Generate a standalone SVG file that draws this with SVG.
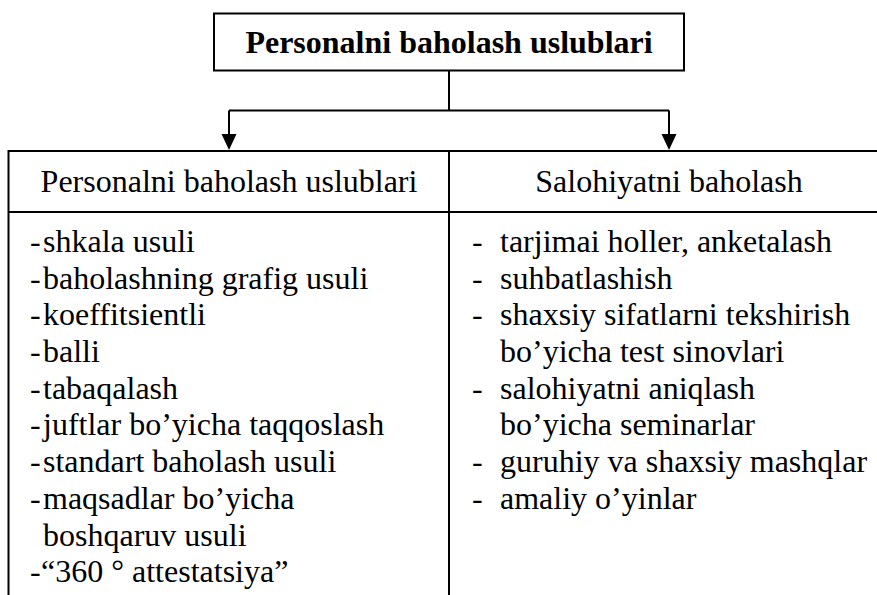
<svg xmlns="http://www.w3.org/2000/svg" width="877" height="595" viewBox="0 0 877 595">
<style>
text{font-family:"Liberation Serif","Times New Roman",serif;font-size:32px;fill:#000}
.b{font-weight:bold}
.ln{stroke:#000;stroke-width:2;fill:none}
.ah{fill:#000}
</style>
<rect width="877" height="595" fill="#fff"/>
<g id="title">
<rect class="ln" x="214" y="13.5" width="470" height="57"/>
<text class="b" x="449" y="53" text-anchor="middle">Personalni baholash uslublari</text>
</g>
<g id="connectors">
<path class="ln" d="M449,70.5 V110.5 M229,110.5 H669"/>
<path class="ln" d="M229,110.5 V134"/>
<path class="ln" d="M669,110.5 V134"/>
<path class="ah" d="M221.5,134 L236.5,134 L229,150 Z"/>
<path class="ah" d="M661.5,134 L676.5,134 L669,150 Z"/>
</g>
<g id="table">
<path class="ln" d="M8.5,151 H877 M8.5,212 H877 M8.5,150 V595 M449,150 V595"/>
</g>
<g id="left-column">
<text x="229" y="192" text-anchor="middle">Personalni baholash uslublari</text>
<text x="30" y="252">-</text><text x="43" y="252">shkala usuli</text>
<text x="30" y="288.7">-</text><text x="43" y="288.7">baholashning grafig usuli</text>
<text x="30" y="325.4">-</text><text x="43" y="325.4">koeffitsientli</text>
<text x="30" y="362">-</text><text x="43" y="362">balli</text>
<text x="30" y="398.7">-</text><text x="43" y="398.7">tabaqalash</text>
<text x="30" y="435.4">-</text><text x="43" y="435.4">juftlar bo’yicha taqqoslash</text>
<text x="30" y="472">-</text><text x="43" y="472">standart baholash usuli</text>
<text x="30" y="508.8">-</text><text x="43" y="508.8">maqsadlar bo’yicha</text>
<text x="43" y="545.5">boshqaruv usuli</text>
<text x="30" y="582">-</text><text x="41" y="582">“360 ° attestatsiya”</text>
</g>
<g id="right-column">
<text x="669" y="192" text-anchor="middle">Salohiyatni baholash</text>
<text x="472" y="252">-</text><text x="500" y="252">tarjimai holler, anketalash</text>
<text x="472" y="288.7">-</text><text x="500" y="288.7">suhbatlashish</text>
<text x="472" y="325.4">-</text><text x="500" y="325.4">shaxsiy sifatlarni tekshirish</text>
<text x="500" y="362">bo’yicha test sinovlari</text>
<text x="472" y="398.7">-</text><text x="500" y="398.7">salohiyatni aniqlash</text>
<text x="500" y="435.4">bo’yicha seminarlar</text>
<text x="472" y="472">-</text><text x="500" y="472">guruhiy va shaxsiy mashqlar</text>
<text x="472" y="508.8">-</text><text x="500" y="508.8">amaliy o’yinlar</text>
</g>
</svg>
